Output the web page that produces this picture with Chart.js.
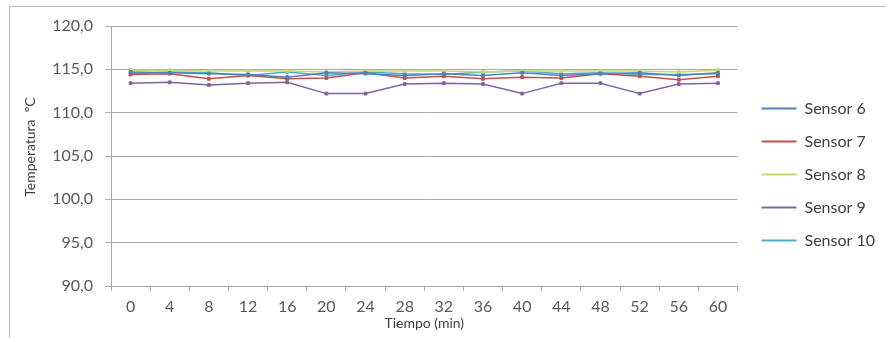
<!DOCTYPE html>
<html>
<head>
<meta charset="utf-8">
<script src="https://cdn.jsdelivr.net/npm/chart.js@4.4.1/dist/chart.umd.min.js"></script>
<style>
  html, body { margin: 0; padding: 0; background: #fff; }
  #wrap { position: relative; width: 886px; height: 338px; }
  #frame { position: absolute; left: 9px; top: 6px; right: -2px; bottom: -2px; border: 1px solid #bdbdbd; }
  canvas { position: absolute; left: 0; top: 0; }
</style>
</head>
<body>
<div id="wrap">
  <div id="frame"></div>
  <canvas id="chartTemp" width="886" height="338"></canvas>
</div>
<script>
'use strict';

// tiempo (min)
const tiempos = ['0', '4', '8', '12', '16', '20', '24', '28', '32', '36', '40', '44', '48', '52', '56', '60'];

// temperaturas por sensor (ºC)
const sensor6 = [114.7, 114.6, 114.5, 114.4, 114.1, 114.6, 114.5, 114.3, 114.5, 114.3, 114.6, 114.3, 114.5, 114.6, 114.3, 114.6];
const sensor7 = [114.4, 114.5, 113.9, 114.3, 113.9, 114.0, 114.6, 114.0, 114.2, 113.9, 114.1, 114.0, 114.5, 114.2, 113.8, 114.2];
const sensor8 = [114.9, 114.9, 114.8, 114.8, 114.8, 114.7, 114.8, 114.8, 114.8, 114.7, 114.8, 114.8, 114.8, 114.8, 114.7, 114.9];
const sensor9 = [113.4, 113.5, 113.2, 113.4, 113.5, 112.2, 112.2, 113.3, 113.4, 113.3, 112.2, 113.4, 113.4, 112.2, 113.3, 113.4];
const sensor10 = [114.5, 114.7, 114.6, 114.3, 114.7, 114.3, 114.7, 114.5, 114.4, 114.7, 114.8, 114.5, 114.6, 114.4, 114.4, 114.5];

const nombres = ['Sensor 6', 'Sensor 7', 'Sensor 8', 'Sensor 9', 'Sensor 10'];
const colores = ['#4F81BD', '#C0504D', '#C5D96B', '#8064A2', '#4BACC6'];

const gris = '#a9a9a9';
const fuente = 'Lato, "Open Sans", sans-serif';

function serie(i, valores) {
  return {
    label: nombres[i],
    data: valores,
    yAxisID: 'y',
    borderColor: colores[i],
    backgroundColor: colores[i],
    borderWidth: 1.5,
    pointStyle: 'rect',
    pointRadius: 2,
    pointBorderWidth: 1,
    tension: 0
  };
}

const config = {
  type: 'line',
  data: {
    labels: tiempos,
    datasets: [
      serie(0, sensor6),
      serie(1, sensor7),
      serie(2, sensor8),
      serie(3, sensor9),
      serie(4, sensor10)
    ]
  },
  options: {
    responsive: false,
    animation: false,
    layout: { padding: { left: 10, right: 1, top: 26, bottom: 0 } },
    plugins: {
      legend: {
        position: 'right',
        align: 'start',
        title: { display: true, text: '', font: { size: 12 }, padding: 21.5 },
        labels: {
          usePointStyle: true,
          pointStyle: 'line',
          pointStyleWidth: 35,
          padding: 17,
          color: '#404040',
          font: { family: fuente, size: 16 },
          generateLabels: function(chart) {
            const items = Chart.defaults.plugins.legend.labels.generateLabels(chart);
            items.forEach(function(it) { it.lineWidth = 2; });
            return items;
          }
        }
      },
      tooltip: { enabled: false }
    },
    scales: {
      x: {
        offset: true,
        grid: { offset: true, drawOnChartArea: false, color: gris, tickLength: 5 },
        border: { color: gris },
        ticks: { color: '#595959', font: { family: fuente, size: 16 }, padding: 6, maxRotation: 0 },
        title: { display: true, text: 'Tiempo (min)', color: '#404040', font: { family: fuente, size: 14 }, padding: { top: -7, bottom: 6 } }
      },
      y: {
        min: 90,
        max: 120,
        afterFit: function(scale) { scale.width = 101; },
        ticks: {
          stepSize: 5,
          color: '#595959',
          font: { family: fuente, size: 16 },
          padding: 12,
          callback: function(v) { return v.toFixed(1).replace('.', ','); }
        },
        grid: { color: gris, tickLength: 6 },
        border: { color: gris },
        title: { display: true, text: '     Temperatura  ºC', color: '#404040', font: { family: fuente, size: 14 }, padding: { top: 12, bottom: 0 } }
      },
      // hueco entre el área del gráfico y la leyenda
      hueco: {
        position: 'right',
        display: true,
        afterFit: function(scale) { scale.width = 7; },
        grid: { display: false },
        border: { display: false },
        ticks: { display: false }
      }
    }
  }
};

const chartTemp = new Chart(document.getElementById('chartTemp'), config);
</script>
</body>
</html>
